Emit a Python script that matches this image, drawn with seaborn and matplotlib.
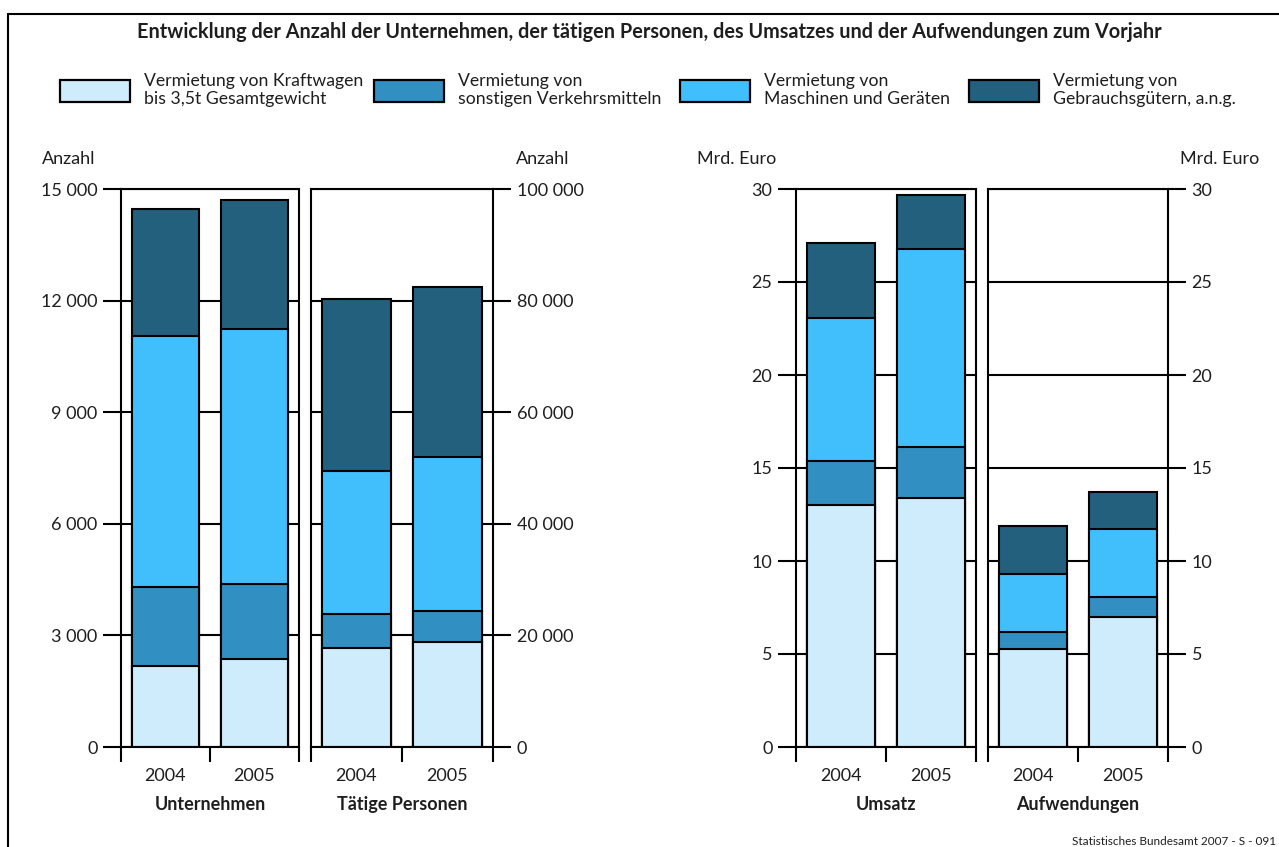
import numpy as np
import pandas as pd
import matplotlib
matplotlib.use("Agg")
import matplotlib.pyplot as plt
import seaborn as sns
from matplotlib.patches import Rectangle
from matplotlib.lines import Line2D

# -------------------------
# DATA
# -------------------------
jahre = ["2004", "2005"]

legende = [
    "Vermietung von Kraftwagen\nbis 3,5t Gesamtgewicht",
    "Vermietung von\nsonstigen Verkehrsmitteln",
    "Vermietung von\nMaschinen und Geräten",
    "Vermietung von\nGebrauchsgütern, a.n.g.",
]
farben = ["#CEECFC", "#3190C1", "#41BFFD", "#22607E"]

# Unternehmen (Anzahl)
unt_kraftwagen = [2170, 2355]
unt_verkehrsmittel = [2140, 2015]
unt_maschinen = [6745, 6860]
unt_gebrauchsgueter = [3400, 3465]

# Tätige Personen (Anzahl)
pers_kraftwagen = [17730, 18870]
pers_verkehrsmittel = [6030, 5430]
pers_maschinen = [25730, 27760]
pers_gebrauchsgueter = [30750, 30390]

# Umsatz (Mrd. Euro)
ums_kraftwagen = [13.02, 13.41]
ums_verkehrsmittel = [2.38, 2.70]
ums_maschinen = [7.69, 10.69]
ums_gebrauchsgueter = [4.00, 2.90]

# Aufwendungen (Mrd. Euro)
aufw_kraftwagen = [5.29, 6.98]
aufw_verkehrsmittel = [0.91, 1.09]
aufw_maschinen = [3.09, 3.66]
aufw_gebrauchsgueter = [2.61, 1.99]

titel = ("Entwicklung der Anzahl der Unternehmen, der tätigen Personen, "
         "des Umsatzes und der Aufwendungen zum Vorjahr")
quelle = "Statistisches Bundesamt 2007 - S - 091"

# -------------------------
# STYLE
# -------------------------
sns.set_theme(style="white")
plt.rcParams["font.family"] = ["Lato", "DejaVu Sans"]
TXT = "#1e1e1e"
FS = 13

W, H = 1279, 847
fig = plt.figure(figsize=(W / 100, H / 100), dpi=100)


def fx(x):
    return x / W


def fy(y):
    return 1 - y / H


# outer frame
fig.add_artist(Line2D([fx(8), fx(8)], [fy(14), fy(860)], color="black", lw=1.5))
fig.add_artist(Line2D([fx(8), fx(1290)], [fy(14), fy(14)], color="black", lw=1.5))

fig.text(fx(649), fy(32), titel, ha="center", va="center",
         fontsize=14.3, fontweight="bold", color=TXT)

# legend
leg_x = [60, 374, 680, 969]
for i in range(4):
    fig.add_artist(Rectangle((fx(leg_x[i]), fy(102)), 70 / W, 22 / H,
                             transform=fig.transFigure, facecolor=farben[i],
                             edgecolor="black", lw=1.6))
    fig.text(fx(leg_x[i] + 84), fy(90), legende[i], ha="left", va="center",
             fontsize=12.7, color=TXT, linespacing=1.22)

# -------------------------
# PANELS
# -------------------------
panels = [
    ("Unternehmen", [unt_kraftwagen, unt_verkehrsmittel, unt_maschinen, unt_gebrauchsgueter],
     15000, 3000, "left", 121, 299),
    ("Tätige Personen", [pers_kraftwagen, pers_verkehrsmittel, pers_maschinen, pers_gebrauchsgueter],
     100000, 20000, "right", 311, 493),
    ("Umsatz", [ums_kraftwagen, ums_verkehrsmittel, ums_maschinen, ums_gebrauchsgueter],
     30, 5, "left", 796, 976),
    ("Aufwendungen", [aufw_kraftwagen, aufw_verkehrsmittel, aufw_maschinen, aufw_gebrauchsgueter],
     30, 5, "right", 988, 1168),
]

Y_TOP, Y_BOT = 189, 747

for name, segs, ymax, step, side, x0, x1 in panels:
    ax = fig.add_axes([fx(x0), fy(Y_BOT), (x1 - x0) / W, (Y_BOT - Y_TOP) / H])
    cum = np.cumsum(np.array(segs), axis=0)
    # stacked bars: draw cumulative totals from top segment down
    for k in reversed(range(4)):
        df = pd.DataFrame({"Jahr": jahre, "Wert": cum[k]})
        sns.barplot(data=df, x="Jahr", y="Wert", color=farben[k], saturation=1,
                    width=0.75, edgecolor="black", linewidth=1.5, errorbar=None, ax=ax)

    ax.set_xlim(-0.5, 1.5)
    ax.set_ylim(0, ymax)
    ticks = np.arange(0, ymax + step / 2, step)
    ax.set_yticks(ticks)
    ax.set_yticklabels([f"{int(t):,}".replace(",", " ") for t in ticks])
    ax.grid(True, axis="y", color="black", lw=1.5)
    ax.set_axisbelow(True)
    for sp in ax.spines.values():
        sp.set_visible(True)
        sp.set_color("black")
        sp.set_linewidth(1.5)

    if side == "left":
        ax.tick_params(axis="y", left=True, right=False, labelleft=True, labelright=False)
    else:
        ax.tick_params(axis="y", left=False, right=True, labelleft=False, labelright=True)
    ax.tick_params(axis="y", length=13, width=1.5, direction="out", pad=4,
                   labelsize=FS, labelcolor=TXT, color="black")

    ax.set_xticks([-0.5, 0.5, 1.5], minor=True)
    ax.tick_params(axis="x", which="minor", bottom=True, length=11, width=1.5,
                   direction="out", color="black")
    ax.tick_params(axis="x", which="major", bottom=False, length=0, pad=15,
                   labelsize=FS, labelcolor=TXT)
    ax.set_xlabel(name, fontsize=FS, fontweight="bold", color=TXT, labelpad=9)
    ax.set_ylabel("")

# unit labels
fig.text(fx(42), fy(159), "Anzahl", ha="left", va="center", fontsize=FS, color=TXT)
fig.text(fx(516), fy(159), "Anzahl", ha="left", va="center", fontsize=FS, color=TXT)
fig.text(fx(697), fy(159), "Mrd. Euro", ha="left", va="center", fontsize=FS, color=TXT)
fig.text(fx(1180), fy(159), "Mrd. Euro", ha="left", va="center", fontsize=FS, color=TXT)

fig.text(fx(1276), fy(841), quelle, ha="right", va="center", fontsize=8.5, color=TXT)

fig.savefig("out.png", dpi=100)
